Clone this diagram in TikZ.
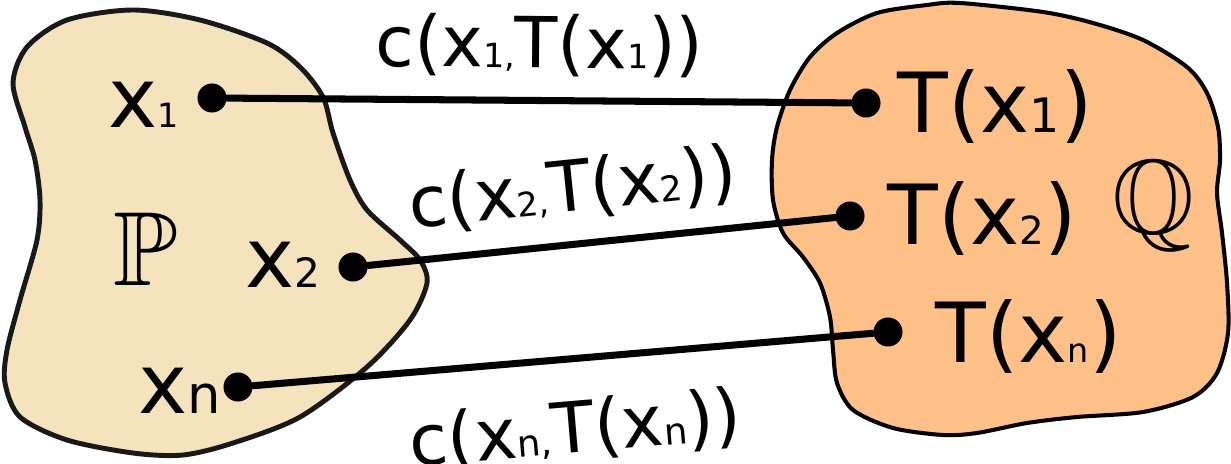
\documentclass[tikz,border=0pt]{standalone}
\usepackage{fontspec}
\usepackage{amssymb}
\setmainfont{DejaVu Sans}
\definecolor{pfill}{HTML}{F4E3BC}
\definecolor{qfill}{HTML}{FFC187}
\newcommand{\idx}[2][11]{{\fontsize{#1}{#1}\selectfont #2}}
\begin{document}
\begin{tikzpicture}[x=0.01cm,y=-0.01cm,line join=round,line cap=round,
    mdot/.style={circle,fill=black,inner sep=0pt,minimum size=0.29cm},
    link/.style={line width=2pt},
    big/.style={inner sep=0pt,anchor=base west,font=\fontsize{23.6}{24}\selectfont},
    cost/.style={inner sep=0pt,sloped,font=\fontsize{20}{20}\selectfont},
    setname/.style={inner sep=0pt,anchor=base west,font=\fontsize{30}{30}\selectfont}]
\useasboundingbox (0,0) rectangle (1231,464);
% the two sets
\draw[line width=1.4pt,draw=black!90,fill=pfill] plot[smooth cycle] coordinates {
  (13,83) (25,127) (35,160) (40,200) (37,240) (20,300) (7,350) (5,383) (20,417)
  (67,440) (133,453) (183,455) (233,443) (300,417) (367,367) (410,320) (427,283)
  (420,260) (400,240) (367,210) (350,180) (333,133) (323,97) (300,67) (267,43)
  (200,20) (133,10) (67,20) (27,47)};
\draw[line width=1.15pt,fill=qfill] plot[smooth cycle] coordinates {
  (877,13) (927,5) (960,3) (1043,12) (1093,23) (1143,40) (1187,67) (1207,93)
  (1218,127) (1220,160) (1217,193) (1222,233) (1227,283) (1228,333) (1217,373)
  (1193,397) (1143,412) (1077,417) (1027,423) (977,433) (943,435) (893,428)
  (853,410) (837,383) (833,350) (830,317) (820,283) (803,257) (783,233) (773,200)
  (772,160) (777,127) (790,90) (810,57) (837,33)};
\node[setname] (setp) at (113,285) {$\mathbb{P}$};
\node[setname] (setq) at (1112,233) {$\mathbb{Q}$};
% points and their images
\node[mdot] (a1) at (212,98) {};
\node[mdot] (a2) at (353,267) {};
\node[mdot] (a3) at (238,387) {};
\node[mdot] (b1) at (866,103) {};
\node[mdot] (b2) at (850,216) {};
\node[mdot] (b3) at (888,332) {};
\node[big] (la1) at (108,127) {x\idx[9.5]{1}};
\node[big] (la2) at (245,287) {x\idx[11.5]{2}};
\node[big] (la3) at (138,413) {x\idx[15]{n}};
\node[big] (lb1) at (897,133) {T(x\idx[13.5]{1})};
\node[big] (lb2) at (887,245) {T(x\idx[11]{2})};
\node[big] (lb3) at (935,362) {T(x\idx[9.5]{n})};
% transport costs
\draw[link] (a1) -- node[cost,above=0.2cm] (c1) {c(x\idx[9.5]{1,}T(x\idx[9.5]{1}))} (b1);
\draw[link] (a2) -- node[cost,pos=0.45,above=0.2cm] (c2) {c(x\idx[9.5]{2,}T(x\idx[10]{2}))} (b2);
\draw[link] (a3) -- node[cost,pos=0.51,below=0.37cm] (c3) {c(x\idx[10.5]{n,}T(x\idx[10.5]{n}))} (b3);
\end{tikzpicture}
\end{document}
